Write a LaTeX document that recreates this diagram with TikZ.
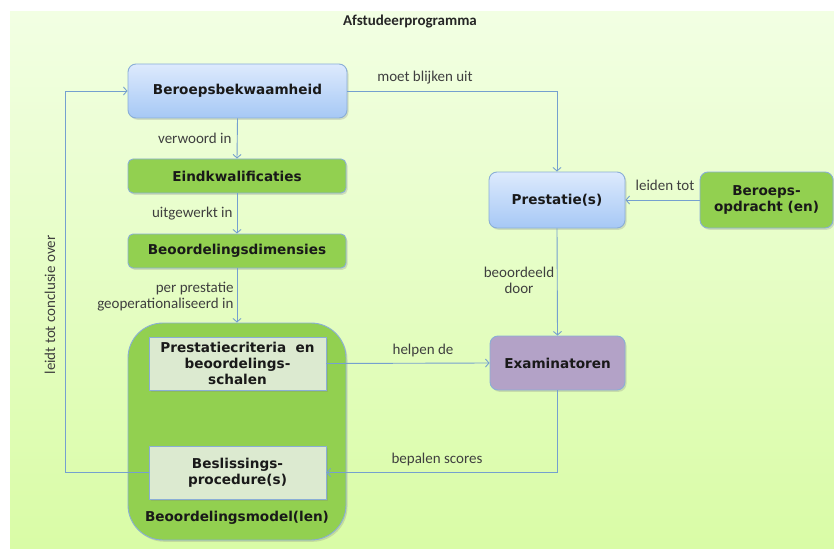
\documentclass[tikz,border=0pt]{standalone}
\usepackage{fontspec}
\setmainfont{Carlito}
\newfontfamily\boxfont{DejaVu Sans}
\usetikzlibrary{arrows.meta,shadows}
\definecolor{linkblue}{HTML}{75A0CF}
\definecolor{randblauw}{HTML}{8AAED6}
\definecolor{groen}{HTML}{92D050}
\definecolor{paars}{HTML}{B3A2C7}
\definecolor{lichtgroen}{HTML}{DCEAD0}
\definecolor{blauwtop}{HTML}{DDEAFD}
\definecolor{blauwbodem}{HTML}{A6C8F5}
\definecolor{vlaktop}{HTML}{F2FFE3}
\definecolor{vlakbodem}{HTML}{D9FCA6}
\definecolor{tekst}{HTML}{3F3F3F}

\tikzset{
    blok/.style={draw=randblauw, line width=0.9pt, rounded corners=8pt, align=center,
        inner sep=0pt, text=black!90,
        font=\boxfont\bfseries\fontsize{13.6}{16}\selectfont,
        drop shadow={opacity=0.25, shadow xshift=1.5pt, shadow yshift=-1.8pt}},
    blauwblok/.style={blok, top color=blauwtop, bottom color=blauwbodem},
    groenblok/.style={blok, fill=groen},
    paarsblok/.style={blok, fill=paars},
    binnenblok/.style={blok, rounded corners=0pt, fill=lichtgroen, minimum width=177pt, minimum height=53pt},
    link/.style={draw=linkblue, line width=0.9pt, -{Straight Barb[length=3.5pt,width=8pt]}},
    lbl/.style={text=tekst, font=\fontsize{15}{16}\selectfont, inner sep=0pt, align=center}
}

\begin{document}
\begin{tikzpicture}[x=1pt, y=-1pt]
    % page and background panel
    \fill[white] (0,0) rectangle (834,548);
    \useasboundingbox (0,0) rectangle (834,548);
    \shade[top color=vlaktop, bottom color=vlakbodem] (10,12) rectangle (834,548);

    \node[font=\bfseries\fontsize{15}{16}\selectfont, text=black!85] (titel) at (410,22) {Afstudeerprogramma};

    % left column
    \node[blauwblok, minimum width=219pt, minimum height=54pt] (bb) at (237.5,91) {Beroepsbekwaamheid};
    \node[groenblok, minimum width=218pt, minimum height=34pt, rounded corners=5pt] (ek) at (237,176) {Eindkwalificaties};
    \node[groenblok, minimum width=218pt, minimum height=34pt, rounded corners=5pt] (bd) at (237,251) {Beoordelingsdimensies};

    % beoordelingsmodel
    \node[groenblok, minimum width=218pt, minimum height=217pt, rounded corners=35pt] (bm) at (237,431.5) {};
    \node[binnenblok] (pc) at (237.5,363.5) {Prestatiecriteria\ \ en\\beoordelings-\\schalen};
    \node[binnenblok] (bp) at (237.5,472.5) {Beslissings-\\procedure(s)};
    \node[font=\boxfont\bfseries\fontsize{13.6}{16}\selectfont, text=black!90, inner sep=0pt] (bmt) at (237,518) {Beoordelingsmodel(len)};

    % right column
    \node[blauwblok, minimum width=136pt, minimum height=56pt] (pr) at (557,200) {Prestatie(s)};
    \node[groenblok, minimum width=133pt, minimum height=56pt] (bo) at (766.5,200) {Beroeps-\\opdracht (en)};
    \node[paarsblok, minimum width=135pt, minimum height=54pt] (ex) at (557.5,363) {Examinatoren};

    % connectors
    \draw[link] (bb.south) -- (ek.north) node[lbl, anchor=east] at (232,138) {verwoord in};
    \draw[link] (ek.south) -- (bd.north) node[lbl, anchor=east] at (233,214) {uitgewerkt in};
    \draw[link] (bd.south) -- (bm.north) node[lbl, anchor=east, align=right] at (234,297) {per prestatie\\geoperationaliseerd in};
    \draw[link] (bb.east) -| (pr.north) node[lbl] at (425,78) {moet blijken uit};
    \draw[link] (bo.west) -- (pr.east) node[lbl] at (665,185) {leiden tot};
    \draw[link] (pr.south) -- (ex.north) node[lbl] at (519,280) {beoordeeld\\door};
    \draw[link] (pc.east) -- (ex.west) node[lbl] at (423,350) {helpen de};
    \draw[link] (ex.south) |- (bp.east) node[lbl] at (437,459) {bepalen scores};
    \coordinate (terug) at (65,472.5);
    \draw[link] (bp.west) -- (terug) |- (bb.west) node[lbl, rotate=90] at (50,305) {leidt tot conclusie over};
\end{tikzpicture}
\end{document}
